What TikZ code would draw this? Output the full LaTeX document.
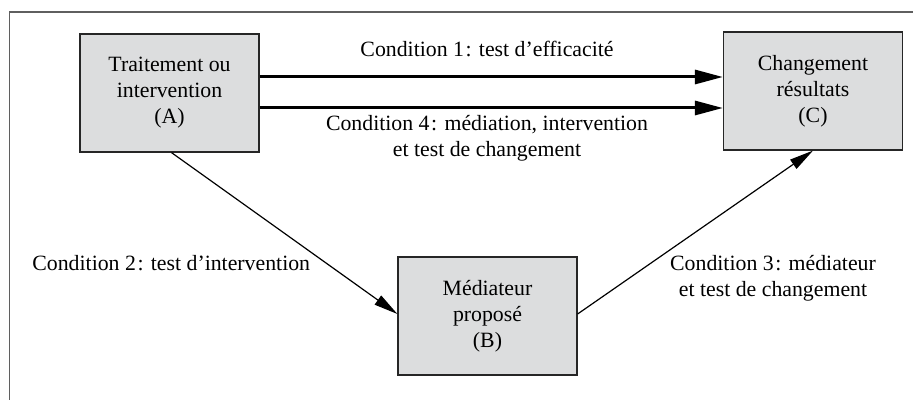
\documentclass[tikz,border=0pt]{standalone}
\usepackage{fontspec}
\setmainfont{Liberation Serif}
\usetikzlibrary{arrows.meta}
\definecolor{boxgray}{RGB}{220,221,222}
\definecolor{framegray}{RGB}{95,95,95}
\tikzset{box/.style= {draw=black!85, fill=boxgray, line width=0.6pt, minimum width=89.5pt, minimum height=59pt, align=center, inner sep=0pt}}
\tikzset{bigarrow/.style= {-{Triangle[length=14pt,width=7pt]}, line width=1.5pt}}
\tikzset{thinarrow/.style= {-{Triangle[length=12pt,width=5.5pt]}, line width=0.6pt}}
\tikzset{lbl/.style= {align=center, inner sep=0pt}}

\begin{document}
\begin{tikzpicture}[x=0.5pt,y=-0.5pt,font=\fontsize{10.9}{13}\selectfont]
        \useasboundingbox (0,0) rectangle (913,400);
        \draw[framegray, line width=0.8pt](913,12)--(9.5,12)--(9.5,400);

        \node[box](A)at(169.5,93){Traitement ou\\intervention\\(A)};
        \node[box](C)at(813,91){Changement\\résultats\\(C)};
        \node[box](B)at(487.5,316){Médiateur\\proposé\\(B)};

        \draw[bigarrow]([yshift=8pt]A.east)--([yshift=8pt]A.east -| C.west);
        \draw[bigarrow]([yshift=-7.5pt]A.east)--([yshift=-7.5pt]A.east -| C.west);
        \draw[thinarrow]([xshift=1pt]A.south)--([yshift=1pt]B.west);
        \draw[thinarrow]([yshift=1pt]B.east)--(C.south);

        \node[lbl](c1)at(487,49){Condition 1\kern0.8pt: test d’efficacité};
        \node[lbl](c4)at(487,138){Condition 4\kern0.8pt: médiation, intervention\\et test de changement};
        \node[lbl,anchor=west](c2)at(32,263){Condition 2\kern0.8pt: test d’intervention};
        \node[lbl](c3)at(773,278){Condition 3\kern0.8pt: médiateur\\et test de changement};
    \end{tikzpicture}
\end{document}
